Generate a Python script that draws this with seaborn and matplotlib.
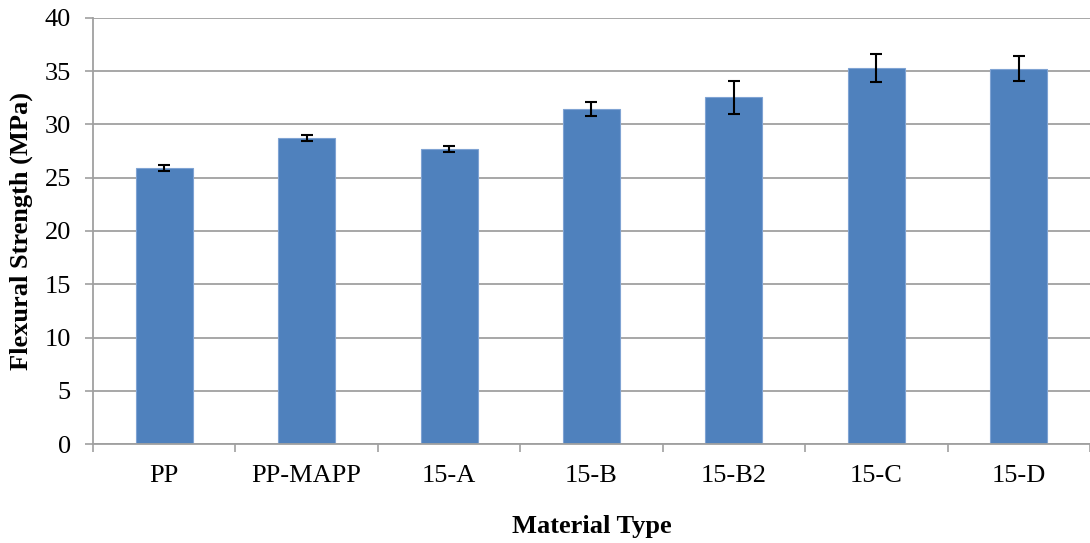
import matplotlib
matplotlib.use("Agg")
import matplotlib.pyplot as plt
import seaborn as sns
import numpy as np

materials = ["PP", "PP-MAPP", "15-A", "15-B", "15-B2", "15-C", "15-D"]
strength = [25.9, 28.75, 27.72, 31.47, 32.56, 35.32, 35.23]
std_err = [0.3, 0.3, 0.28, 0.67, 1.55, 1.31, 1.17]
y_ticks = [0, 5, 10, 15, 20, 25, 30, 35, 40]

sns.set_style("white")
plt.rcParams["font.family"] = ["Liberation Serif", "DejaVu Serif"]
plt.rcParams["text.color"] = "black"
plt.rcParams["axes.labelcolor"] = "black"
plt.rcParams["xtick.labelcolor"] = "black"
plt.rcParams["ytick.labelcolor"] = "black"

fig = plt.figure(figsize=(10.9, 5.43), dpi=100)
ax = fig.add_axes([0.0853, 0.1823, 0.9147, 0.7846])

sns.barplot(x=materials, y=strength, color="#4F81BD", width=0.4,
            edgecolor="#7FA3D3", linewidth=0.8, saturation=1, ax=ax, zorder=2)
ax.errorbar(np.arange(len(materials)), strength, yerr=std_err, fmt="none",
            ecolor="black", elinewidth=1.5, capsize=4.3, capthick=1.5, zorder=3)

ax.set_xlim(-0.5, len(materials) - 0.5)
ax.set_ylim(0, 40)
ax.set_yticks(y_ticks)
ax.yaxis.grid(True, color="#A0A0A0", linewidth=1.3, zorder=0)
ax.set_axisbelow(True)

# category labels at centres, tick marks at boundaries
ax.set_xticks(np.arange(len(materials)), materials, minor=True)
ax.set_xticks(np.arange(len(materials) + 1) - 0.5, [""] * (len(materials) + 1))
ax.tick_params(axis="x", which="minor", length=0, labelsize=19, pad=15, labelcolor="black")
ax.tick_params(axis="x", which="major", length=6, width=1.2, color="#A0A0A0", direction="out")
ax.tick_params(axis="y", length=6, width=1.2, color="#A0A0A0", labelsize=19, direction="out",
               pad=10, labelcolor="black")
ax.tick_params(left=True, bottom=True, which="both")

for side in ["top", "right"]:
    ax.spines[side].set_visible(False)
for side in ["left", "bottom"]:
    ax.spines[side].set_color("#A0A0A0")
    ax.spines[side].set_linewidth(1.3)

ax.set_xlabel("Material Type", fontsize=19, fontweight="bold", labelpad=20, color="black")
ax.set_ylabel("Flexural Strength (MPa)", fontsize=19, fontweight="bold", labelpad=8, color="black")

fig.savefig("out.png", dpi=100)
